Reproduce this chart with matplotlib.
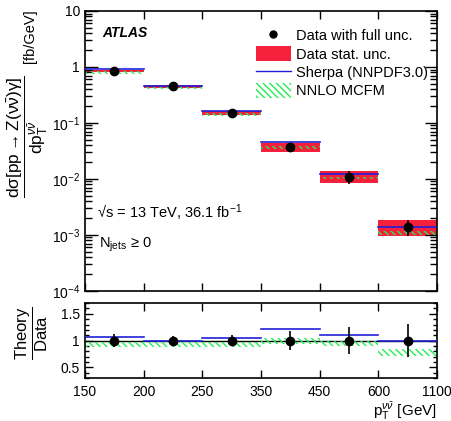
import numpy as np
import matplotlib
matplotlib.use('Agg')
from matplotlib import pyplot as plt
from matplotlib.patches import Patch
from matplotlib.lines import Line2D
from matplotlib.ticker import FixedLocator, FixedFormatter, MultipleLocator

plt.rcParams['font.family'] = ['Liberation Sans', 'DejaVu Sans']
plt.rcParams['mathtext.fontset'] = 'custom'
plt.rcParams['mathtext.rm'] = 'Liberation Sans'
plt.rcParams['mathtext.it'] = 'Liberation Sans:italic'
plt.rcParams['mathtext.bf'] = 'Liberation Sans:bold'
plt.rcParams['hatch.linewidth'] = 1.0

# bin edges in GeV (drawn as equal-width bins)
binEdges = ['150', '200', '250', '350', '450', '600', '1100']

# measured cross section [fb/GeV]
dataXsec = np.array([0.85, 0.45, 0.153, 0.037, 0.011, 0.0014])
# relative statistical uncertainty
dataStat = np.array([0.03, 0.05, 0.08, 0.19, 0.24, 0.33])
# relative full uncertainty (ratio panel)
dataFull = np.array([0.12, 0.08, 0.11, 0.18, 0.25, 0.31])

# theory / data
sherpaRatio = np.array([1.06, 1.00, 1.05, 1.21, 1.11, 1.00])
mcfmLow = np.array([0.88, 0.88, 0.88, 0.94, 0.90, 0.72])
mcfmHigh = np.array([0.98, 0.98, 0.98, 1.05, 1.00, 0.85])

nBins = len(dataXsec)
x = np.arange(nBins) + 0.5

red = '#f5203c'
blue = '#2020d8'
green = '#22ee55'
hatch = '\\\\\\\\\\'

fig = plt.figure(figsize=[4.52, 4.21], dpi=100)
ax = fig.add_axes([0.188, 0.309, 0.779, 0.665])
rax = fig.add_axes([0.188, 0.102, 0.779, 0.178])

#Top panel
for i in range(nBins):
    d = dataXsec[i]
    ax.fill_between([i, i + 1], d * (1 - dataStat[i]), d * (1 + dataStat[i]),
                    color=red, lw=0, zorder=1)
    ax.fill_between([i, i + 1], d * mcfmLow[i], d * mcfmHigh[i], facecolor='none',
                    edgecolor=green, hatch=hatch, lw=0, zorder=2)
    ax.plot([i, i + 1], [d * sherpaRatio[i]] * 2, color=blue, lw=1.2, zorder=3)
ax.errorbar(x, dataXsec, yerr=[dataXsec * dataFull, dataXsec * dataFull], fmt='o',
            color='k', ms=6, elinewidth=1.2, capsize=0, zorder=5)

ax.set_yscale('log')
ax.set_ylim(1e-4, 10)
ax.set_xlim(0, nBins)
ax.yaxis.set_major_locator(FixedLocator([1e-4, 1e-3, 1e-2, 1e-1, 1, 10]))
ax.yaxis.set_major_formatter(FixedFormatter(['$10^{-4}$', '$10^{-3}$', '$10^{-2}$',
                                             '$10^{-1}$', '1', '10']))
ax.set_xticks(np.arange(nBins + 1))
ax.set_xticklabels([])
ax.tick_params(which='both', direction='in', top=True, right=True, labelsize=10)
ax.tick_params(which='major', length=9, width=1)
ax.tick_params(which='minor', length=5, width=1)
ax.tick_params(axis='x', which='major', length=6)
ax.set_ylabel(r'$\dfrac{\mathrm{d\sigma[pp \rightarrow Z(\nu\bar{\nu})\gamma]}}'
              r'{\mathrm{dp}_\mathrm{T}^{\nu\bar{\nu}}}$', fontsize=12.5)
ax.yaxis.set_label_coords(-0.1, 0.55)
ax.text(-0.156, 0.91, '[fb/GeV]', transform=ax.transAxes, rotation=90,
        fontsize=10.5, ha='center', va='center')

ax.text(0.05, 0.921, 'ATLAS', transform=ax.transAxes, fontsize=10,
        fontweight='bold', fontstyle='italic', va='center')
ax.text(0.035, 0.28, '\u221as = 13 TeV, 36.1 fb$^{\\mathregular{-1}}$',
        transform=ax.transAxes, fontsize=10.5, va='center')
ax.text(0.04, 0.165, 'N$_{\\mathrm{jets}}$ \u2265 0', transform=ax.transAxes,
        fontsize=10.5, va='center')

handles = [
    Line2D([], [], marker='o', color='k', ls='none', ms=5),
    Patch(facecolor=red, edgecolor='none'),
    Line2D([], [], color=blue, lw=1),
    Patch(facecolor='none', edgecolor=green, hatch=hatch, lw=0),
]
labels = ['Data with full unc.', 'Data stat. unc.', 'Sherpa (NNPDF3.0)', 'NNLO MCFM']
ax.legend(handles, labels, loc='upper right', bbox_to_anchor=(1.0, 0.97), frameon=False,
          fontsize=10.5, handlelength=2.4, handleheight=1.2, labelspacing=0.2,
          handletextpad=0.4, borderaxespad=0.2)

for s in ax.spines.values():
    s.set_linewidth(1.2)

#Ratio panel
for i in range(nBins):
    rax.fill_between([i, i + 1], mcfmLow[i], mcfmHigh[i], facecolor='none',
                     edgecolor=green, hatch=hatch, lw=0, zorder=2)
    rax.plot([i, i + 1], [sherpaRatio[i]] * 2, color=blue, lw=1.2, zorder=3)
rax.axhline(1, color='k', lw=1, zorder=1)
rax.errorbar(x, np.ones(nBins), yerr=dataFull, fmt='o', color='k', ms=6,
             elinewidth=1.2, capsize=0, zorder=5)
rax.set_xlim(0, nBins)
rax.set_ylim(0.3, 1.7)
rax.set_xticks(np.arange(nBins + 1))
rax.set_xticklabels(binEdges)
rax.set_yticks([0.5, 1, 1.5])
rax.set_yticklabels(['0.5', '1', '1.5'])
rax.yaxis.set_minor_locator(MultipleLocator(0.1))
rax.tick_params(which='both', direction='in', top=True, right=True, labelsize=10)
rax.tick_params(which='major', length=6, width=1)
rax.tick_params(which='minor', length=3, width=1)
rax.tick_params(axis='x', pad=5)
rax.set_ylabel(r'$\dfrac{\mathrm{Theory}}{\mathrm{Data}}$', fontsize=12)
rax.yaxis.set_label_coords(-0.1, 0.6)
rax.set_xlabel(r'p$_\mathrm{T}^{\nu\bar{\nu}}$ [GeV]', fontsize=11, loc='right',
               labelpad=1)
for s in rax.spines.values():
    s.set_linewidth(1.2)

fig.savefig('out.png', dpi=100)
